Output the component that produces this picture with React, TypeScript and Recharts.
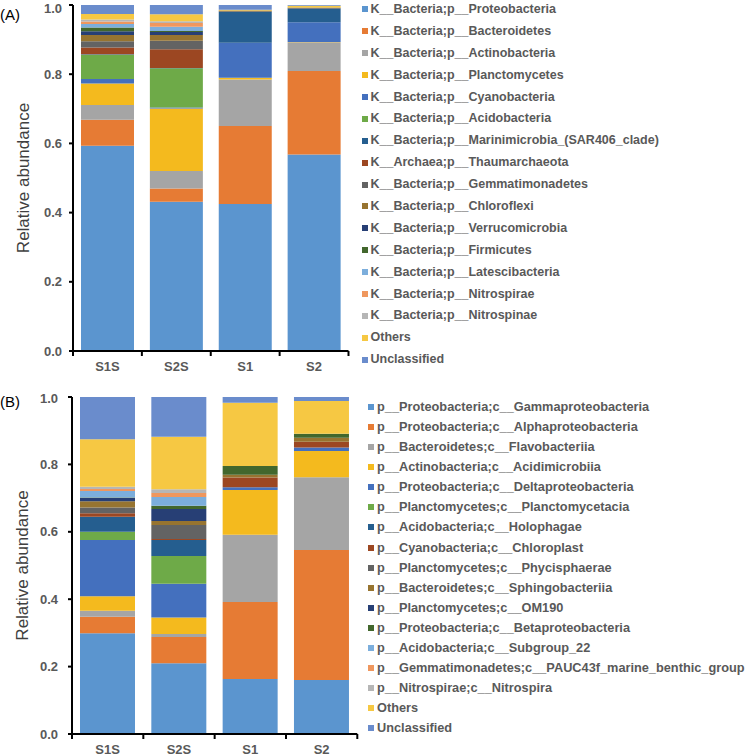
import React from 'react';
import { BarChart, Bar, XAxis, YAxis, Legend, Label } from 'recharts';

const samples = ['S1S', 'S2S', 'S1', 'S2'];

// panel A, phylum level (bottom of stack first)
const phylumNames = [
  'K__Bacteria;p__Proteobacteria',
  'K__Bacteria;p__Bacteroidetes',
  'K__Bacteria;p__Actinobacteria',
  'K__Bacteria;p__Planctomycetes',
  'K__Bacteria;p__Cyanobacteria',
  'K__Bacteria;p__Acidobacteria',
  'K__Bacteria;p__Marinimicrobia_(SAR406_clade)',
  'K__Archaea;p__Thaumarchaeota',
  'K__Bacteria;p__Gemmatimonadetes',
  'K__Bacteria;p__Chloroflexi',
  'K__Bacteria;p__Verrucomicrobia',
  'K__Bacteria;p__Firmicutes',
  'K__Bacteria;p__Latescibacteria',
  'K__Bacteria;p__Nitrospirae',
  'K__Bacteria;p__Nitrospinae',
  'Others',
  'Unclassified',
];
const phylumValues = [
  [0.593, 0.431, 0.425, 0.568],
  [0.075, 0.039, 0.225, 0.241],
  [0.043, 0.05, 0.135, 0.083],
  [0.062, 0.181, 0.005, 0.001],
  [0.013, 0.003, 0.101, 0.057],
  [0.07, 0.113, 0, 0],
  [0.002, 0.001, 0.089, 0.039],
  [0.019, 0.054, 0, 0],
  [0.018, 0.025, 0.002, 0.002],
  [0.018, 0.016, 0.002, 0.002],
  [0.011, 0.009, 0, 0],
  [0.011, 0.003, 0, 0],
  [0.01, 0.012, 0, 0],
  [0.007, 0.011, 0, 0],
  [0.006, 0.005, 0, 0],
  [0.016, 0.02, 0.002, 0.005],
  [0.026, 0.027, 0.014, 0.002],
];

// panel B, class level
const classNames = [
  'p__Proteobacteria;c__Gammaproteobacteria',
  'p__Proteobacteria;c__Alphaproteobacteria',
  'p__Bacteroidetes;c__Flavobacteriia',
  'p__Actinobacteria;c__Acidimicrobiia',
  'p__Proteobacteria;c__Deltaproteobacteria',
  'p__Planctomycetes;c__Planctomycetacia',
  'p__Acidobacteria;c__Holophagae',
  'p__Cyanobacteria;c__Chloroplast',
  'p__Planctomycetes;c__Phycisphaerae',
  'p__Bacteroidetes;c__Sphingobacteriia',
  'p__Planctomycetes;c__OM190',
  'p__Proteobacteria;c__Betaproteobacteria',
  'p__Acidobacteria;c__Subgroup_22',
  'p__Gemmatimonadetes;c__PAUC43f_marine_benthic_group',
  'p__Nitrospirae;c__Nitrospira',
  'Others',
  'Unclassified',
];
const classValues = [
  [0.299, 0.21, 0.163, 0.16],
  [0.049, 0.078, 0.229, 0.386],
  [0.018, 0.009, 0.199, 0.216],
  [0.043, 0.049, 0.133, 0.078],
  [0.167, 0.1, 0.008, 0.01],
  [0.024, 0.082, 0, 0],
  [0.045, 0.048, 0, 0],
  [0.01, 0.003, 0.029, 0.017],
  [0.017, 0.041, 0, 0],
  [0.019, 0.012, 0.008, 0.012],
  [0.009, 0.036, 0, 0],
  [0.002, 0.009, 0.026, 0.012],
  [0.019, 0.026, 0, 0],
  [0.006, 0.012, 0, 0],
  [0.007, 0.011, 0, 0],
  [0.141, 0.156, 0.188, 0.097],
  [0.125, 0.118, 0.017, 0.012],
];

const yTicks = [0, 0.2, 0.4, 0.6, 0.8, 1.0];

const palette = [
  '#5B95CF', '#E67B34', '#A5A5A5', '#F4BA1E', '#4470BE', '#6EAA48',
  '#255E8F', '#9C4722', '#636363', '#977430', '#273F75', '#42672D',
  '#7CAEDC', '#EF975E', '#B6B6B6', '#F6C843', '#6A8CCC',
];

const FONT = '"Liberation Sans", Arial, sans-serif';
const TEXT_GRAY = '#595959';
const TICK_SIZE = 5;
const TICK_MARGIN = 6;

function buildRows(names: string[], values: number[][]) {
  return samples.map((s, j) => {
    const row: Record<string, string | number> = { sample: s };
    names.forEach((n, i) => {
      row['s' + i] = values[i][j];
    });
    return row;
  });
}

// category tick with Excel-style marks between the bars
const makeSampleTick = (baseline: number) => (props: any) => {
  const { x, y, payload, index } = props;
  const half = payload.offset || 34;
  const axisY = y - TICK_SIZE - TICK_MARGIN;
  const isLast = index === samples.length - 1;
  return (
    <g>
      <line x1={x - half} x2={x - half} y1={axisY} y2={axisY + 5} stroke="#000" strokeWidth={2} />
      {isLast && (
        <line x1={x + half} x2={x + half} y1={axisY} y2={axisY + 5} stroke="#000" strokeWidth={2} />
      )}
      <text
        x={x}
        y={axisY + baseline}
        textAnchor="middle"
        fill={TEXT_GRAY}
        fontSize={13}
        fontWeight="bold"
        fontFamily={FONT}
      >
        {payload.value}
      </text>
    </g>
  );
};

const makeLegend = (names: string[], rowH: number, fontSize: number, gap: number) => () => (
  <div style={{ fontFamily: FONT, fontSize, fontWeight: 'bold', color: TEXT_GRAY }}>
    {names.map((n, i) => (
      <div
        key={n}
        style={{ height: rowH, display: 'flex', alignItems: 'center', whiteSpace: 'nowrap' }}
      >
        <span
          style={{
            display: 'inline-block',
            width: 6,
            height: 6,
            background: palette[i],
            marginRight: gap,
            marginTop: 1,
          }}
        />
        <span>{n}</span>
      </div>
    ))}
  </div>
);

const yLabel = (cx: number) => (props: any) => {
  const vb = props.viewBox;
  const cy = vb.y + vb.height / 2;
  return (
    <text
      x={cx}
      y={cy}
      transform={`rotate(-90 ${cx} ${cy})`}
      textAnchor="middle"
      dominantBaseline="central"
      fill="#404040"
      fontSize={17}
      fontFamily={FONT}
    >
      Relative abundance
    </text>
  );
};

interface PanelProps {
  names: string[];
  values: number[][];
  height: number;
  top: number;
  plotLeft: number;
  plotRight: number;
  xAxisHeight: number;
  barSize: number;
  labelBaseline: number;
  tickMargin: number;
  legendLeft: number;
  legendTop: number;
  legendRow: number;
  legendFont: number;
  legendGap: number;
  yLabelX: number;
}

const Panel: React.FC<PanelProps> = (p) => {
  const data = buildRows(p.names, p.values);
  return (
    <BarChart
      width={745}
      height={p.height}
      data={data}
      margin={{ top: p.top, right: 745 - p.plotRight, bottom: 0, left: 0 }}
      barSize={p.barSize}
    >
      <XAxis
        dataKey="sample"
        height={p.xAxisHeight}
        axisLine={{ stroke: '#000', strokeWidth: 2 }}
        tickLine={false}
        tickSize={TICK_SIZE}
        tickMargin={TICK_MARGIN}
        interval={0}
        tick={makeSampleTick(p.labelBaseline)}
      />
      <YAxis
        width={p.plotLeft}
        domain={[0, 1]}
        ticks={yTicks}
        allowDataOverflow
        tickFormatter={(v: number) => v.toFixed(1)}
        axisLine={{ stroke: '#000', strokeWidth: 2 }}
        tickLine={{ stroke: '#000', strokeWidth: 2 }}
        tickSize={4}
        tickMargin={p.tickMargin}
        tick={{ fill: TEXT_GRAY, fontSize: 13, fontWeight: 'bold', fontFamily: FONT }}
      >
        <Label content={yLabel(p.yLabelX)} />
      </YAxis>
      <Legend
        layout="vertical"
        align="center"
        verticalAlign="middle"
        content={makeLegend(p.names, p.legendRow, p.legendFont, p.legendGap)}
        wrapperStyle={{ left: p.legendLeft, top: p.legendTop, width: 745 - p.legendLeft }}
      />
      {p.names.map((n, i) => (
        <Bar
          key={n}
          dataKey={'s' + i}
          name={n}
          stackId="a"
          fill={palette[i]}
          isAnimationActive={false}
        />
      ))}
    </BarChart>
  );
};

const panelLetter: React.CSSProperties = {
  position: 'absolute',
  left: 0,
  fontFamily: FONT,
  fontSize: 15,
  color: '#000',
  lineHeight: '16px',
};

export default function App() {
  return (
    <div style={{ position: 'absolute', left: 0, top: 0, width: 745, height: 756, background: '#fff', overflow: 'hidden' }}>
      <div style={{ position: 'absolute', left: 0, top: 0 }}>
        <Panel
          names={phylumNames}
          values={phylumValues}
          height={380}
          top={5}
          plotLeft={73}
          plotRight={348.5}
          xAxisHeight={29}
          barSize={53}
          labelBaseline={19.7}
          tickMargin={7}
          legendLeft={362}
          legendTop={-2}
          legendRow={21.9}
          legendFont={12.5}
          legendGap={2.5}
          yLabelX={23.5}
        />
      </div>
      <div style={{ position: 'absolute', left: 0, top: 390 }}>
        <Panel
          names={classNames}
          values={classValues}
          height={366}
          top={7}
          plotLeft={72}
          plotRight={357.3}
          xAxisHeight={22}
          barSize={55}
          labelBaseline={19.5}
          tickMargin={10}
          legendLeft={367.5}
          legendTop={6.7}
          legendRow={20.06}
          legendFont={12.75}
          legendGap={3.5}
          yLabelX={22}
        />
      </div>
      <div style={{ ...panelLetter, top: 7 }}>(A)</div>
      <div style={{ ...panelLetter, top: 394 }}>(B)</div>
    </div>
  );
}
